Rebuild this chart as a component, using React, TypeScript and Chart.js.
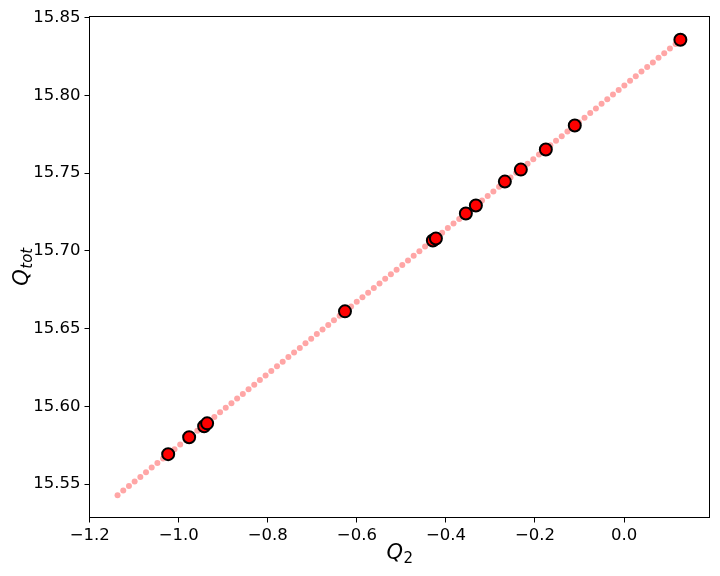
import React, { useEffect, useRef } from 'react';
import { Chart, registerables } from 'chart.js';

Chart.register(...registerables);

// Fitted relation (light red points)
const fitQ2 = [
  -1.1375, -1.1247, -1.1119, -1.0991, -1.0863, -1.0736, -1.0608, -1.0480, -1.0352, -1.0224,
  -1.0096, -0.9968, -0.9840, -0.9712, -0.9584, -0.9457, -0.9329, -0.9201, -0.9073, -0.8945,
  -0.8817, -0.8689, -0.8561, -0.8433, -0.8305, -0.8178, -0.8050, -0.7922, -0.7794, -0.7666,
  -0.7538, -0.7410, -0.7282, -0.7154, -0.7026, -0.6899, -0.6771, -0.6643, -0.6515, -0.6387,
  -0.6259, -0.6131, -0.6003, -0.5875, -0.5747, -0.5620, -0.5492, -0.5364, -0.5236, -0.5108,
  -0.4980, -0.4852, -0.4724, -0.4596, -0.4468, -0.4341, -0.4213, -0.4085, -0.3957, -0.3829,
  -0.3701, -0.3573, -0.3445, -0.3317, -0.3189, -0.3062, -0.2934, -0.2806, -0.2678, -0.2550,
  -0.2422, -0.2294, -0.2166, -0.2038, -0.1910, -0.1783, -0.1655, -0.1527, -0.1399, -0.1271,
  -0.1143, -0.1015, -0.0887, -0.0759, -0.0631, -0.0504, -0.0376, -0.0248, -0.0120, 0.0008,
  0.0136, 0.0264, 0.0392, 0.0520, 0.0648, 0.0775, 0.0903, 0.1031, 0.1159, 0.1287,
];
const fitQtot = [
  15.5429, 15.5459, 15.5488, 15.5518, 15.5547, 15.5577, 15.5607, 15.5636, 15.5666, 15.5695,
  15.5725, 15.5755, 15.5784, 15.5814, 15.5843, 15.5873, 15.5903, 15.5932, 15.5962, 15.5991,
  15.6021, 15.6051, 15.6080, 15.6110, 15.6139, 15.6169, 15.6198, 15.6228, 15.6258, 15.6287,
  15.6317, 15.6346, 15.6376, 15.6406, 15.6435, 15.6465, 15.6494, 15.6524, 15.6554, 15.6583,
  15.6613, 15.6642, 15.6672, 15.6702, 15.6731, 15.6761, 15.6790, 15.6820, 15.6850, 15.6879,
  15.6909, 15.6938, 15.6968, 15.6998, 15.7027, 15.7057, 15.7086, 15.7116, 15.7146, 15.7175,
  15.7205, 15.7234, 15.7264, 15.7293, 15.7323, 15.7353, 15.7382, 15.7412, 15.7441, 15.7471,
  15.7501, 15.7530, 15.7560, 15.7589, 15.7619, 15.7649, 15.7678, 15.7708, 15.7737, 15.7767,
  15.7797, 15.7826, 15.7856, 15.7885, 15.7915, 15.7945, 15.7974, 15.8004, 15.8033, 15.8063,
  15.8093, 15.8122, 15.8152, 15.8181, 15.8211, 15.8241, 15.8270, 15.8300, 15.8329, 15.8359,
];

// Observed points (red with black edge)
const obsQ2 = [
  -1.0238, -0.9767, -0.9430, -0.9363, -0.6267, -0.4293, -0.4225,
  -0.3552, -0.3327, -0.2676, -0.2317, -0.1756, -0.1106, 0.1266,
];
const obsQtot = [
  15.5693, 15.5802, 15.5872, 15.5891, 15.6611, 15.7066, 15.7079,
  15.7240, 15.7291, 15.7445, 15.7522, 15.7651, 15.7805, 15.8357,
];

const xRange = [-1.2005, 0.192];
const yRange = [15.5286, 15.8506];
const xStep = 0.2;
const yStep = 0.05;

const FONT = '"DejaVu Sans", sans-serif';

function drawMathLabel(
  ctx: CanvasRenderingContext2D,
  base: string,
  sub: string,
  subItalic: boolean,
  cx: number,
  baseline: number,
) {
  const bigFont = `italic 21px ${FONT}`;
  const smallFont = `${subItalic ? 'italic ' : ''}15px ${FONT}`;
  ctx.font = bigFont;
  const wb = ctx.measureText(base).width;
  ctx.font = smallFont;
  const ws = ctx.measureText(sub).width;
  const total = wb + ws;
  const x0 = cx - total / 2;
  ctx.fillStyle = '#000';
  ctx.textAlign = 'left';
  ctx.textBaseline = 'alphabetic';
  ctx.font = bigFont;
  ctx.fillText(base, x0, baseline);
  ctx.font = smallFont;
  ctx.fillText(sub, x0 + wb + 0.5, baseline + 4);
}

const framePlugin = {
  id: 'frameAndTitles',
  afterDraw(chart: any) {
    const { ctx, chartArea } = chart;
    const { left, right, top, bottom } = chartArea;
    ctx.save();
    ctx.strokeStyle = '#000';
    ctx.lineWidth = 1;
    ctx.strokeRect(left, top, right - left, bottom - top);
    // x title
    drawMathLabel(ctx, 'Q', '2', false, (left + right) / 2, 559);
    // y title
    ctx.translate(28, (top + bottom) / 2);
    ctx.rotate(-Math.PI / 2);
    drawMathLabel(ctx, 'Q', 'tot', true, 0, 0);
    ctx.restore();
  },
};

export default function App() {
  const canvasRef = useRef<HTMLCanvasElement | null>(null);

  useEffect(() => {
    const canvas = canvasRef.current;
    if (!canvas) return;
    const chart = new Chart(canvas, {
      type: 'scatter',
      data: {
        datasets: [
          {
            label: 'observed',
            data: obsQ2.map((x, i) => ({ x, y: obsQtot[i] })),
            pointRadius: 6,
            pointHoverRadius: 6,
            backgroundColor: '#ff0000',
            borderColor: '#000000',
            borderWidth: 2,
          },
          {
            label: 'fit',
            data: fitQ2.map((x, i) => ({ x, y: fitQtot[i] })),
            pointRadius: 3,
            pointHoverRadius: 3,
            backgroundColor: 'rgba(255,0,0,0.35)',
            borderWidth: 0,
          },
        ],
      },
      options: {
        animation: false,
        responsive: false,
        devicePixelRatio: 1,
        layout: { padding: { top: 16.5, right: 10.5, left: 0, bottom: 0 } },
        plugins: {
          legend: { display: false },
          tooltip: { enabled: false },
        },
        scales: {
          x: {
            type: 'linear',
            min: xRange[0],
            max: xRange[1],
            afterFit: (s: any) => {
              s.height = 58.5;
            },
            border: { display: false },
            grid: {
              drawOnChartArea: false,
              drawTicks: true,
              tickLength: 5,
              color: '#000',
              lineWidth: 1,
            },
            ticks: {
              stepSize: xStep,
              includeBounds: false,
              padding: 3,
              color: '#000',
              font: { family: FONT, size: 16.5 },
              maxRotation: 0,
              autoSkip: false,
              callback: (v: any) => Number(v).toFixed(1).replace('-', '\u2212'),
            },
          },
          y: {
            type: 'linear',
            min: yRange[0],
            max: yRange[1],
            afterFit: (s: any) => {
              s.width = 89.5;
            },
            border: { display: false },
            grid: {
              drawOnChartArea: false,
              drawTicks: true,
              tickLength: 5,
              color: '#000',
              lineWidth: 1,
            },
            ticks: {
              stepSize: yStep,
              includeBounds: false,
              padding: 4,
              color: '#000',
              font: { family: FONT, size: 16.5 },
              autoSkip: false,
              callback: (v: any) => Number(v).toFixed(2),
            },
          },
        },
      },
      plugins: [framePlugin],
    });
    return () => chart.destroy();
  }, []);

  return (
    <div style={{ position: 'absolute', left: 0, top: 0, width: 720, height: 576, background: '#fff' }}>
      <canvas ref={canvasRef} width={720} height={576} style={{ width: 720, height: 576 }} />
    </div>
  );
}
